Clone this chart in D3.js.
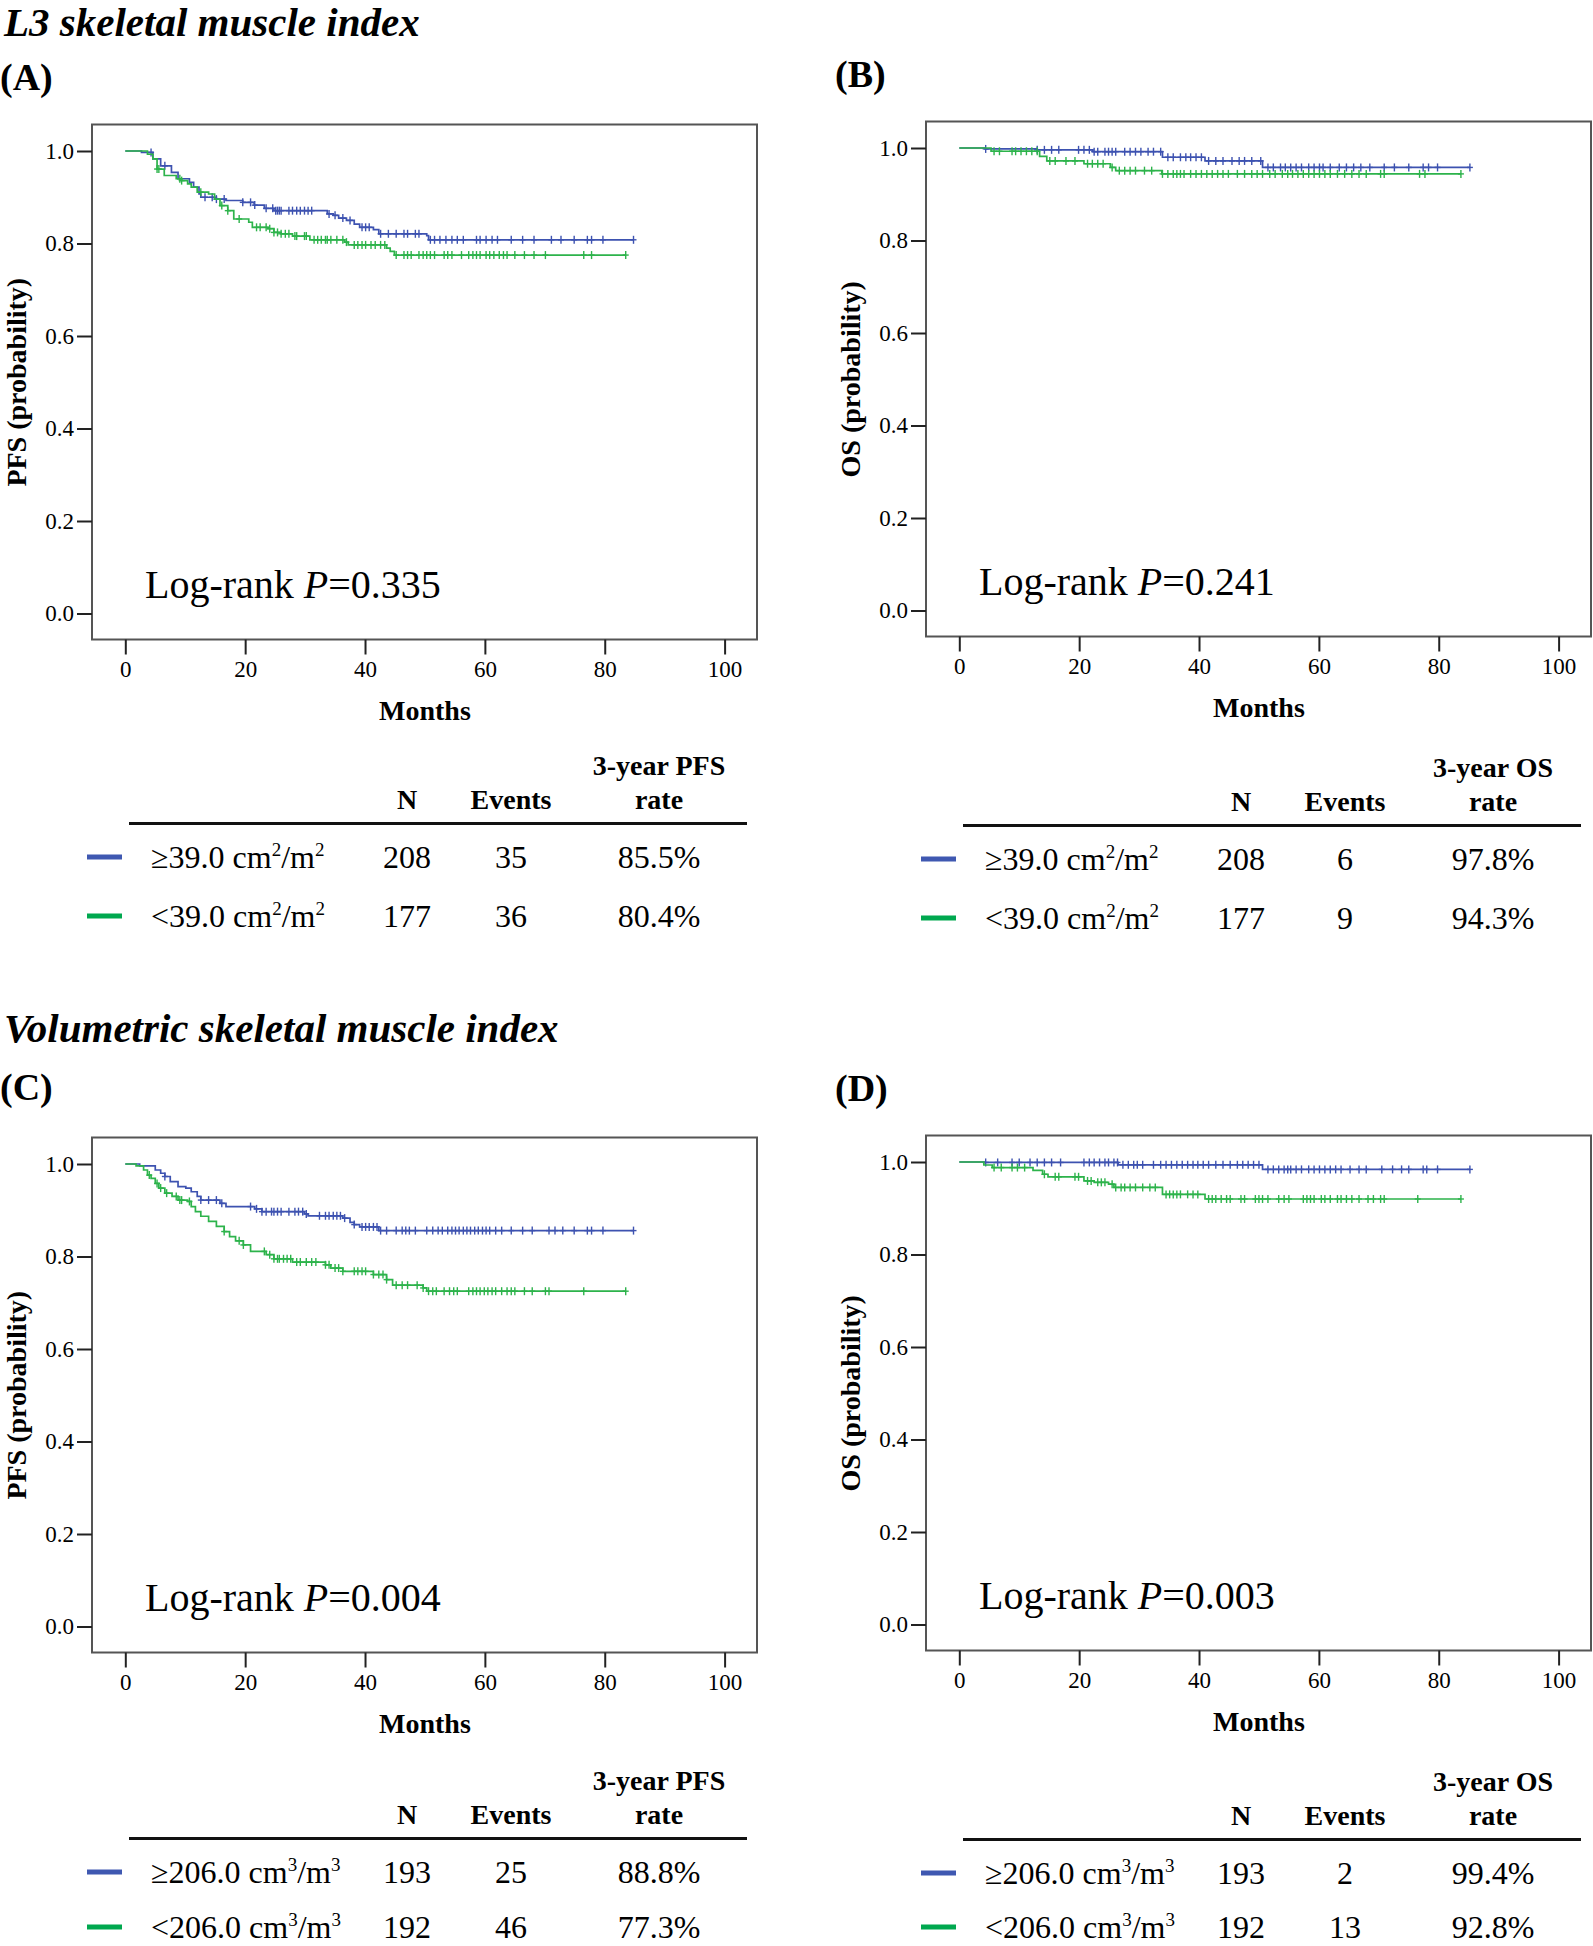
<!DOCTYPE html>
<html><head><meta charset="utf-8">
<script src="https://cdn.jsdelivr.net/npm/d3@7"></script>
<style>
html,body{margin:0;padding:0;background:#fff;}
svg{display:block;}
text{font-family:"Liberation Serif","Times New Roman",serif;fill:#000;}
</style></head><body>
<svg id="chart" width="1593" height="1946"></svg>
<script>
// ---------------- DATA ----------------
const sectionTitles = ["L3 skeletal muscle index", "Volumetric skeletal muscle index"];
const panelLetters = ["(A)", "(B)", "(C)", "(D)"];
const yTitles = ["PFS (probability)", "OS (probability)", "PFS (probability)", "OS (probability)"];
const pValues = ["0.335", "0.241", "0.004", "0.003"];
const rateHeaders = ["3-year PFS", "3-year OS", "3-year PFS", "3-year OS"];
const xTickValues = [0, 20, 40, 60, 80, 100];
const yTickValues = [0.0, 0.2, 0.4, 0.6, 0.8, 1.0];
const thresholds = ["39.0", "39.0", "206.0", "206.0"];
const unitPowers = ["2", "2", "3", "3"];
const groupOps = ["≥", "<"];
const nValues = [[208, 177], [208, 177], [193, 192], [193, 192]];
const eventValues = [[35, 36], [6, 9], [25, 46], [2, 13]];
const rateValues = [["85.5%", "80.4%"], ["97.8%", "94.3%"], ["88.8%", "77.3%"], ["99.4%", "92.8%"]];

// Kaplan-Meier steps: [month, survival after drop]
const stepsA_high = [[0,1],[2.7,0.997],[4.6,0.983],[5.9,0.968],[7.7,0.954],[8.8,0.94],[10.7,0.932],[11.4,0.922],[12.3,0.907],[12.6,0.900],[15.2,0.896],[16.8,0.893],[19.6,0.889],[21.5,0.883],[23.2,0.876],[24.8,0.871],[33.7,0.864],[34.7,0.861],[35.6,0.855],[36.9,0.850],[38.2,0.842],[39.1,0.835],[41.4,0.830],[42.3,0.821],[50.3,0.817],[50.6,0.808]];
const stepsA_low = [[0,1],[3.7,0.993],[4.6,0.983],[5.3,0.961],[6.5,0.947],[8.5,0.94],[9.4,0.936],[10.4,0.929],[11.0,0.922],[12.0,0.911],[13.9,0.907],[14.9,0.896],[15.8,0.882],[17.1,0.871],[18.1,0.853],[20.6,0.846],[21.2,0.835],[23.8,0.832],[24.8,0.824],[26.0,0.821],[27.9,0.816],[30.8,0.808],[36.6,0.803],[37.2,0.797],[43.6,0.790],[44.2,0.783],[44.9,0.775]];
const stepsB_high = [[0,1],[4.3,0.998],[13.0,0.996],[22.3,0.992],[33.9,0.980],[41.0,0.972],[50.6,0.958]];
const stepsB_low = [[0,1],[5.3,0.993],[13.4,0.982],[14.6,0.972],[20.8,0.966],[25.2,0.958],[26.1,0.951],[33.8,0.944]];
const stepsC_high = [[0,1],[2.4,0.996],[5.0,0.987],[5.9,0.980],[6.6,0.973],[7.5,0.962],[8.8,0.951],[10.1,0.948],[11.0,0.940],[12.0,0.930],[12.6,0.922],[15.8,0.915],[16.8,0.908],[21.6,0.903],[22.8,0.897],[29.9,0.892],[30.5,0.888],[36.3,0.883],[37.5,0.874],[38.2,0.869],[39.1,0.864],[42.3,0.856]];
const stepsC_low = [[0,1],[1.8,0.996],[3.05,0.987],[3.7,0.976],[4.3,0.969],[5.0,0.958],[5.6,0.948],[6.6,0.937],[7.8,0.930],[8.8,0.922],[10.4,0.919],[11.0,0.908],[11.7,0.897],[12.6,0.887],[13.9,0.876],[15.2,0.865],[16.5,0.854],[17.4,0.843],[18.4,0.834],[19.7,0.825],[20.9,0.811],[23.5,0.804],[24.8,0.795],[27.9,0.788],[33.4,0.782],[34.3,0.775],[36.3,0.768],[41.4,0.761],[43.6,0.750],[44.6,0.738],[49.7,0.732],[50.3,0.725]];
const stepsD_high = [[0,1],[4.1,0.999],[26.5,0.994],[50.6,0.984]];
const stepsD_low = [[0,1],[4.1,0.9935],[5.5,0.988],[12.3,0.982],[13.9,0.9735],[14.8,0.968],[20.8,0.959],[22.5,0.956],[24.9,0.952],[25.8,0.945],[33.9,0.930],[41.0,0.920]];

// last follow-up month of each curve [high, low]
const endA = [84.8, 83.5], endB = [85.2, 83.7], endC = [84.8, 83.5], endD = [85.2, 83.7];

// censoring times (months)
const censA_high = [4.3,6.6,13.3,14.5,15.2,16.5,19.6,20.9,21.6,23.5,24.6,25.1,25.4,25.7,26.0,27.3,27.9,28.6,29.2,29.9,30.5,31.1,34.0,35.0,36.3,37.5,39.5,40.1,40.7,42.6,43.9,45.2,46.5,47.1,48.4,49.0,50.9,51.6,52.5,53.5,54.5,55.4,56.4,58.6,59.2,60.2,61.2,62.1,64.4,66.3,68.2,71.1,72.7,74.9,77.1,77.8,79.7,84.8];
const censA_low = [5.3,5.6,9.1,9.4,12.6,16.1,17.1,19.0,21.9,22.5,23.5,24.1,24.8,25.4,26.0,26.7,27.3,28.3,28.6,29.9,30.2,31.5,32.1,32.7,33.4,33.7,34.3,35.3,36.3,36.9,38.2,38.8,39.5,40.1,41.0,41.7,42.6,43.3,45.2,46.5,47.1,47.7,49.0,49.7,50.3,50.9,51.6,53.2,53.8,54.5,56.1,57.3,58.0,58.6,59.2,60.2,60.8,61.5,62.4,63.1,63.7,65.0,66.6,68.2,70.1,76.5,77.8,83.5];
const censB_high = [4.4,13.0,14.2,15.4,16.6,19.9,20.8,21.7,22.5,23.1,24.3,24.9,25.5,26.1,27.6,28.5,29.4,30.3,31.5,32.4,33.6,34.8,35.7,36.9,37.8,38.6,39.5,40.4,41.6,42.8,44.0,45.5,46.7,47.6,48.8,50.3,51.5,52.4,53.6,54.4,55.3,56.2,57.1,58.3,59.2,60.1,60.7,61.9,63.4,64.6,65.8,67.0,68.5,70.9,72.6,75.0,77.4,78.3,79.8,85.2];
const censB_low = [5.8,6.7,8.8,9.4,10.3,11.2,12.1,13.0,15.1,16.0,17.8,19.3,21.4,22.2,23.1,24.0,25.5,26.7,27.6,28.5,29.4,30.9,32.1,33.9,34.8,35.7,36.3,36.9,37.5,38.6,39.5,40.4,41.3,42.2,43.1,44.0,44.9,46.4,47.6,48.8,49.7,50.6,51.8,52.7,53.9,54.8,55.6,56.5,57.4,58.3,59.2,60.1,61.0,61.9,63.1,64.3,65.5,66.7,67.9,70.3,70.9,76.8,77.7,83.7];
const censC_high = [6.6,12.6,13.9,15.2,16.1,20.9,21.9,22.8,23.5,24.4,24.8,25.4,26.0,27.3,28.3,28.9,29.6,30.2,32.4,33.4,34.0,34.7,35.3,35.9,36.6,38.2,39.5,40.1,40.7,41.4,42.0,42.6,43.6,45.2,46.2,46.8,47.4,48.4,50.3,51.3,52.2,52.9,53.8,54.5,55.1,55.7,56.4,57.0,57.6,58.3,58.9,59.6,60.2,60.8,61.8,62.8,64.4,66.3,67.9,70.7,71.7,73.0,74.9,77.1,77.8,79.7,84.8];
const censC_low = [4.0,5.3,5.9,6.9,8.5,9.1,9.4,10.7,16.5,19.0,19.7,23.2,24.1,24.8,25.4,25.7,26.4,27.0,27.6,28.6,29.2,30.2,31.1,31.8,33.4,34.0,35.0,35.6,36.3,38.2,38.8,39.5,40.1,41.4,42.3,43.0,43.6,45.2,46.2,47.1,48.7,49.7,50.6,51.3,51.9,53.2,54.1,54.8,55.4,57.3,58.0,58.6,59.2,59.9,60.5,61.2,61.8,62.8,63.7,64.4,65.0,66.6,67.9,70.1,70.7,76.5,83.5];
const censD_high = [4.4,6.4,8.8,10.0,11.8,13.0,14.2,15.4,16.9,20.8,21.7,22.5,23.4,24.3,24.9,25.8,26.4,27.3,28.2,29.1,29.7,30.6,32.4,33.6,34.5,35.4,36.3,37.2,38.1,39.0,39.8,40.7,41.6,42.8,44.0,45.2,46.4,47.3,48.2,49.1,50.0,51.5,52.4,53.3,54.2,54.8,55.3,56.2,57.1,58.3,59.2,60.1,61.0,61.9,62.8,63.7,65.2,66.7,67.9,70.5,72.3,73.8,75.0,77.4,78.0,79.8,85.2];
const censD_low = [5.8,7.0,8.8,9.7,10.9,14.2,16.0,16.6,19.3,19.9,21.4,22.0,23.1,23.7,24.3,25.5,26.1,27.0,27.6,28.5,29.4,30.6,31.8,32.7,34.5,35.1,35.7,36.3,36.9,38.1,39.0,39.8,41.6,42.2,42.8,43.7,44.6,45.2,47.0,47.6,49.4,50.0,50.6,51.5,53.3,54.2,55.0,57.4,58.0,58.6,59.2,60.4,61.0,61.9,63.1,63.7,64.6,65.5,66.7,68.2,69.1,70.3,70.9,76.5,83.7];

const panelSteps = [[stepsA_high, stepsA_low],[stepsB_high, stepsB_low],[stepsC_high, stepsC_low],[stepsD_high, stepsD_low]];
const panelCens = [[censA_high, censA_low],[censB_high, censB_low],[censC_high, censC_low],[censD_high, censD_low]];
const panelEnds = [endA, endB, endC, endD];

// ---------------- STYLE / LAYOUT ----------------
const curveColors = ["#3d52b0", "#2db34b"];
const swatchColors = ["#3f58b1", "#00a84f"];
const layout = [
  {ox: 0,   oyP: 0,    oyT: 0,    letterX: 0,   letterY: 90,   rowY: [868, 927]},
  {ox: 834, oyP: -3,   oyT: 2,    letterX: 835, letterY: 87,   rowY: [868, 927]},
  {ox: 0,   oyP: 1013, oyT: 1015, letterX: 0,   letterY: 1100, rowY: [868, 923]},
  {ox: 834, oyP: 1011, oyT: 1016, letterX: 835, letterY: 1101, rowY: [868, 922]}
];
const titleY = [36, 1042];

const svg = d3.select("#chart");

svg.selectAll("text.section").data(sectionTitles).enter().append("text")
  .attr("class", "section")
  .attr("x", 4).attr("y", (d, i) => titleY[i])
  .attr("font-size", 41).attr("font-weight", "bold").attr("font-style", "italic")
  .text(d => d);

function survAt(steps, t) {
  const i = d3.bisector(d => d[0]).right(steps, t) - 1;
  return steps[Math.max(0, i)][1];
}

function groupLabel(sel, op, thr, pow) {
  sel.append("tspan").text(op + thr + " cm");
  sel.append("tspan").attr("font-size", 19).attr("dy", -12).text(pow);
  sel.append("tspan").attr("dy", 12).text("/m");
  sel.append("tspan").attr("font-size", 19).attr("dy", -12).text(pow);
}

layout.forEach((L, p) => {
  const g = svg.append("g");
  g.append("text").attr("x", L.letterX).attr("y", L.letterY)
    .attr("font-size", 38).attr("font-weight", "bold").text(panelLetters[p]);

  const gp = g.append("g").attr("transform", `translate(${L.ox},${L.oyP})`);
  const x = d3.scaleLinear().domain([0, 100]).range([125.3, 724.6]);
  const y = d3.scaleLinear().domain([0, 1]).range([613.5, 151]);
  const frame = {x0: 92, x1: 757, y0: 124.5, y1: 639.5};

  // curves
  panelSteps[p].forEach((steps, k) => {
    const end = panelEnds[p][k];
    const pts = steps.map(d => [d[0], d[1]]).concat([[end, steps[steps.length - 1][1]]]);
    const line = d3.line().x(d => x(d[0])).y(d => y(d[1])).curve(d3.curveStepAfter);
    gp.append("path").attr("d", line(pts)).attr("fill", "none")
      .attr("stroke", curveColors[k]).attr("stroke-width", 1.7);
    const marks = gp.append("g").attr("stroke", curveColors[k]).attr("stroke-width", 1.4);
    panelCens[p][k].forEach(t => {
      const cx = x(t), cy = y(survAt(steps, t));
      marks.append("line").attr("x1", cx).attr("x2", cx).attr("y1", cy - 4).attr("y2", cy + 4);
      marks.append("line").attr("x1", cx - 3).attr("x2", cx + 3).attr("y1", cy).attr("y2", cy);
    });
  });

  // frame
  gp.append("rect").attr("x", frame.x0).attr("y", frame.y0)
    .attr("width", frame.x1 - frame.x0).attr("height", frame.y1 - frame.y0)
    .attr("fill", "none").attr("stroke", "#555").attr("stroke-width", 2);

  // x axis
  const xAxis = d3.axisBottom(x).tickValues(xTickValues).tickSize(15).tickPadding(6).tickFormat(d3.format("d"));
  const gx = gp.append("g").attr("transform", `translate(0,${frame.y1})`).call(xAxis);
  gx.select(".domain").remove();
  gx.selectAll(".tick line").attr("stroke", "#222").attr("stroke-width", 2);
  gx.selectAll(".tick text").attr("font-size", 23).attr("font-family", null).attr("fill", "#000");

  // y axis
  const yAxis = d3.axisLeft(y).tickValues(yTickValues).tickSize(15).tickPadding(3).tickFormat(d3.format(".1f"));
  const gy = gp.append("g").attr("transform", `translate(${frame.x0},0)`).call(yAxis);
  gy.select(".domain").remove();
  gy.selectAll(".tick line").attr("stroke", "#222").attr("stroke-width", 2);
  gy.selectAll(".tick text").attr("font-size", 23).attr("font-family", null).attr("fill", "#000");

  // axis titles
  gp.append("text").attr("transform", `translate(26,${(y(0) + y(1)) / 2}) rotate(-90)`)
    .attr("text-anchor", "middle").attr("font-size", 28).attr("font-weight", "bold").text(yTitles[p]);
  gp.append("text").attr("x", (x(0) + x(100)) / 2).attr("y", 720)
    .attr("text-anchor", "middle").attr("font-size", 28).attr("font-weight", "bold").text("Months");

  // log-rank
  const lr = gp.append("text").attr("x", 145).attr("y", 598).attr("font-size", 40);
  lr.append("tspan").text("Log-rank ");
  lr.append("tspan").attr("font-style", "italic").text("P");
  lr.append("tspan").text("=" + pValues[p]);

  // table
  const gt = g.append("g").attr("transform", `translate(${L.ox},${L.oyT})`);
  const colN = 407, colE = 511, colR = 659;
  const hdr = {"font-size": 28, "font-weight": "bold", "text-anchor": "middle"};
  const addText = (xx, yy, txt, attrs) => {
    const t = gt.append("text").attr("x", xx).attr("y", yy).text(txt);
    Object.entries(attrs).forEach(([k, v]) => t.attr(k, v));
    return t;
  };
  addText(colR, 775, rateHeaders[p], hdr);
  addText(colR, 809, "rate", hdr);
  addText(colN, 809, "N", hdr);
  addText(colE, 809, "Events", hdr);
  gt.append("line").attr("x1", 129).attr("x2", 747).attr("y1", 823.5).attr("y2", 823.5)
    .attr("stroke", "#111").attr("stroke-width", 3);
  [0, 1].forEach(k => {
    const ry = L.rowY[k];
    gt.append("line").attr("x1", 87).attr("x2", 122).attr("y1", ry - 11).attr("y2", ry - 11)
      .attr("stroke", swatchColors[k]).attr("stroke-width", 5);
    const lbl = gt.append("text").attr("x", 151).attr("y", ry).attr("font-size", 32);
    groupLabel(lbl, groupOps[k], thresholds[p], unitPowers[p]);
    const cell = {"font-size": 32, "text-anchor": "middle"};
    addText(colN, ry, nValues[p][k], cell);
    addText(colE, ry, eventValues[p][k], cell);
    addText(colR, ry, rateValues[p][k], cell);
  });
});
</script>
</body></html>
